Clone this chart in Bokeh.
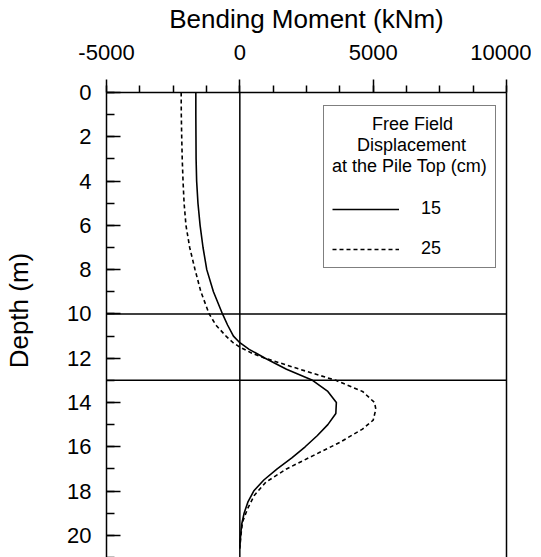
from bokeh.plotting import figure
from bokeh.models import (Range1d, SingleIntervalTicker, FixedTicker, LinearAxis, Span,
                          Legend, LegendItem, CustomJSTickFormatter)
from bokeh.embed import file_html
from bokeh.resources import INLINE

# Data
depth_15 = [0, 1, 2, 3, 4, 5, 6, 7, 8, 9, 10, 10.5, 11, 11.3, 11.6, 12, 12.5, 13,
            13.5, 14, 14.5, 15, 15.5, 16, 16.5, 17, 17.5, 18, 18.5, 19, 19.5, 20, 20.5]
moment_15 = [-1650, -1650, -1645, -1640, -1620, -1570, -1490, -1380, -1240, -990, -650,
             -460, -240, 0, 350, 950, 1750, 2725, 3300, 3620, 3600, 3300, 2900, 2450,
             1950, 1400, 900, 520, 300, 160, 70, 30, 0]

depth_25 = [0, 1, 2, 3, 4, 5, 6, 7, 8, 9, 10, 10.5, 11, 11.3, 11.5, 11.8, 12, 12.5, 13,
            13.5, 14, 14.3, 14.8, 15.2, 15.8, 16.4, 17, 17.6, 18.2, 18.8, 19.4, 20, 20.6]
moment_25 = [-2200, -2195, -2180, -2160, -2130, -2090, -2020, -1880, -1680, -1460, -1150,
             -900, -520, -250, 0, 500, 950, 2250, 3600, 4600, 5050, 5100, 5000, 4600,
             3750, 2750, 1750, 975, 540, 290, 100, 40, 0]

ref_depths = [10, 13]
ref_moment = 0
series_labels = ["15", "25"]
NB = "\u00a0"
legend_title_lines = [NB * 8 + "Free Field", NB * 5 + "Displacement", "at the Pile Top (cm)"]
x_title = "Bending Moment (kNm)"
y_title = NB * 4 + "Depth (m)"

FONT = "Liberation Sans"

p = figure(width=531, height=557, output_backend="svg", toolbar_location=None,
           x_range=Range1d(-5000, 10000), y_range=Range1d(21, 0),
           x_axis_location="above", min_border_left=106, min_border_right=25,
           min_border_top=92, min_border_bottom=0)
p.outline_line_color = None
p.grid.visible = False
p.background_fill_color = "white"

xa = p.xaxis[0]
xa.ticker = SingleIntervalTicker(interval=5000, num_minor_ticks=4)
xa.formatter = CustomJSTickFormatter(code="return tick.toFixed(0);")
xa.axis_label = x_title
ya = p.yaxis[0]
ya.ticker = SingleIntervalTicker(interval=2, num_minor_ticks=2)
ya.axis_label = y_title

for ax in (xa, ya):
    ax.axis_line_color = "black"
    ax.axis_line_width = 1.5
    ax.major_tick_line_color = "black"
    ax.minor_tick_line_color = "black"
    ax.major_tick_line_width = 1.5
    ax.minor_tick_line_width = 1.5
    ax.major_label_text_font = FONT
    ax.major_label_text_font_size = "22px"
    ax.major_label_text_color = "black"
    ax.axis_label_text_font = FONT
    ax.axis_label_text_font_size = "26px"
    ax.axis_label_text_font_style = "normal"
    ax.axis_label_text_color = "black"

xa.major_tick_in = 0
xa.major_tick_out = 13
xa.minor_tick_in = 0
xa.minor_tick_out = 7
xa.major_label_standoff = 20
xa.axis_label_standoff = 8

ya.major_tick_in = 14
ya.major_tick_out = 0
ya.minor_tick_in = 8
ya.minor_tick_out = 0
ya.major_label_standoff = 15
ya.axis_label_standoff = 30

right = LinearAxis(ticker=FixedTicker(ticks=[], minor_ticks=[]),
                   major_tick_in=0, major_tick_out=0, minor_tick_in=0, minor_tick_out=0,
                   axis_line_width=1.5, axis_line_color="black")
p.add_layout(right, "right")

for d in ref_depths:
    p.add_layout(Span(location=d, dimension="width", line_color="black", line_width=1.5))
p.add_layout(Span(location=ref_moment, dimension="height", line_color="black", line_width=1.5))

r15 = p.line(moment_15, depth_15, line_color="black", line_width=1.6)
r25 = p.line(moment_25, depth_25, line_color="black", line_width=1.6, line_dash="4 3")

legend = Legend(items=[LegendItem(label=series_labels[0], renderers=[r15]),
                       LegendItem(label=series_labels[1], renderers=[r25])],
                location=(217, 289), title="\n".join(legend_title_lines))
legend.title_text_font = FONT
legend.title_text_font_size = "18px"
legend.title_text_font_style = "normal"
legend.title_text_color = "black"
legend.label_text_font = FONT
legend.label_text_font_size = "18px"
legend.label_text_color = "black"
legend.glyph_width = 67
legend.glyph_height = 20
legend.label_height = 20
legend.label_standoff = 22
legend.spacing = 19
legend.padding = 8
legend.margin = 0
legend.border_line_color = "black"
legend.border_line_width = 1.5
legend.background_fill_alpha = 1
legend.title_standoff = 21
p.add_layout(legend, "center")

open("out.html", "w").write(file_html(p, INLINE))
